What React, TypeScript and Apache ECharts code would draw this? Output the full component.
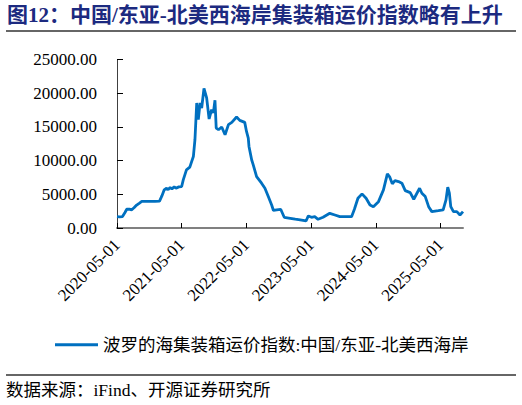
import React, { useEffect, useRef } from "react";
import * as echarts from "echarts";

const titleText = "图12：中国/东亚-北美西海岸集装箱运价指数略有上升";
const seriesName = "波罗的海集装箱运价指数:中国/东亚-北美西海岸";
const sourceText = "数据来源：iFind、开源证券研究所";

const dates = [
  "2020-05-01", "2020-05-15", "2020-06-01", "2020-06-15", "2020-06-25", "2020-07-10", "2020-07-22",
  "2020-08-05", "2020-08-20", "2020-09-05", "2020-09-18", "2020-10-10", "2020-11-05", "2020-12-01",
  "2020-12-27", "2021-01-10", "2021-01-22", "2021-02-05", "2021-02-14", "2021-02-25", "2021-03-07",
  "2021-03-20", "2021-03-30", "2021-04-15", "2021-05-01", "2021-05-10", "2021-05-28", "2021-06-16",
  "2021-07-06", "2021-07-15", "2021-07-25", "2021-08-03", "2021-08-13", "2021-08-22", "2021-09-04",
  "2021-09-19", "2021-10-03", "2021-10-17", "2021-10-27", "2021-11-05", "2021-11-12", "2021-11-25",
  "2021-12-13", "2022-01-01", "2022-01-20", "2022-02-08", "2022-03-07", "2022-03-25", "2022-04-22",
  "2022-05-02", "2022-05-12", "2022-05-16", "2022-05-31", "2022-06-09", "2022-06-28", "2022-07-26",
  "2022-08-14", "2022-09-02", "2022-09-21", "2022-10-01", "2022-10-19", "2022-11-11", "2022-12-01",
  "2023-01-04", "2023-02-01", "2023-03-01", "2023-04-03", "2023-04-16", "2023-05-04", "2023-05-22",
  "2023-06-10", "2023-07-08", "2023-08-15", "2023-09-13", "2023-10-11", "2023-11-15", "2023-12-16",
  "2024-01-01", "2024-01-21", "2024-02-13", "2024-03-07", "2024-03-29", "2024-04-17", "2024-05-16",
  "2024-06-13", "2024-07-05", "2024-07-19", "2024-08-02", "2024-08-17", "2024-09-06", "2024-09-25",
  "2024-10-14", "2024-11-11", "2024-12-01", "2024-12-19", "2025-01-03", "2025-01-16", "2025-02-04",
  "2025-02-23", "2025-03-13", "2025-04-19", "2025-05-16", "2025-06-01", "2025-06-11", "2025-06-20",
  "2025-06-28", "2025-07-13", "2025-08-01", "2025-08-19", "2025-09-05",
];

const values = [
  1680, 1650, 1700, 2300, 2780, 2800, 2700,
  3000, 3400, 3700, 3950, 3950, 3950, 3950,
  4000, 4800, 5650, 5900, 5700, 6000, 5800,
  6100, 5900, 6100, 6150, 7140, 8630, 9030,
  10600, 13100, 18550, 16070, 18550, 17800, 20700,
  19300, 16170, 17560, 17070, 18950, 14830, 14580,
  14980, 13840, 15330, 15670, 16470, 15970, 15670,
  14330, 13350, 12100, 10120, 9370, 7630, 6650,
  5900, 4660, 3420, 2600, 2680, 2780, 1590,
  1440, 1300, 1190, 1040, 1790, 1590, 1680,
  1290, 1590, 2180, 1930, 1680, 1700, 1680,
  2780, 4420, 5060, 4420, 3420, 3170, 3910,
  5650, 8030, 7540, 6550, 7040, 6890, 6650,
  5550, 5250, 4270, 5160, 5900, 5160, 4660,
  3170, 2430, 2570, 2680, 4170, 6060, 5160,
  3170, 2430, 2430, 1930, 2430,
];

const xTickDates = ["2020-05-01", "2021-05-01", "2022-05-01", "2023-05-01", "2024-05-01", "2025-05-01"];
const xMinDate = "2020-05-01";
const xMaxDate = "2025-09-05";
const yTicks = [0, 5000, 10000, 15000, 20000, 25000];

function toTs(s: string): number {
  const [y, m, d] = s.split("-").map(Number);
  return Date.UTC(y, m - 1, d);
}
function fmtDate(v: number): string {
  const d = new Date(v);
  const p = (n: number) => (n < 10 ? "0" + n : "" + n);
  return d.getUTCFullYear() + "-" + p(d.getUTCMonth() + 1) + "-" + p(d.getUTCDate());
}

export default function App() {
  const ref = useRef<HTMLDivElement>(null);
  useEffect(() => {
    if (!ref.current) return;
    const chart = echarts.init(ref.current, undefined, { renderer: "svg" });
    const serif = "'Liberation Serif', 'Times New Roman', 'Noto Sans CJK SC', serif";
    const tickTs = xTickDates.map(toTs);
    chart.setOption({
      animation: false,
      backgroundColor: "#ffffff",
      grid: { left: 117, right: 59, top: 59.5, bottom: 177 },
      legend: {
        left: 50,
        top: 331,
        icon: "rect",
        itemWidth: 43,
        itemHeight: 3,
        textStyle: { fontFamily: serif, fontSize: 17.5, color: "#000000" },
        data: [seriesName],
      },
      xAxis: {
        type: "value",
        min: toTs(xMinDate),
        max: toTs(xMaxDate),
        splitLine: { show: false },
        axisLine: { show: true, lineStyle: { color: "#808080", width: 2 } },
        axisTick: {
          show: true,
          inside: true,
          length: 5,
          customValues: tickTs,
          lineStyle: { color: "#000000", width: 1 },
        },
        axisLabel: {
          customValues: tickTs,
          rotate: 45,
          margin: 14,
          fontFamily: serif,
          fontSize: 17,
          color: "#000000",
          formatter: (v: number) => fmtDate(v),
        },
      },
      yAxis: {
        type: "value",
        min: yTicks[0],
        max: yTicks[yTicks.length - 1],
        interval: 5000,
        splitLine: { show: false },
        axisLine: { show: true, lineStyle: { color: "#404040", width: 1 } },
        axisTick: { show: true, inside: true, length: 6, lineStyle: { color: "#000000" } },
        axisLabel: {
          margin: 20,
          fontFamily: serif,
          fontSize: 17,
          color: "#000000",
          formatter: (v: number) => v.toFixed(2),
        },
      },
      series: [
        {
          name: seriesName,
          type: "line",
          symbol: "none",
          lineStyle: { color: "#0070c0", width: 2.8 },
          itemStyle: { color: "#0070c0" },
          data: dates.map((d, i) => [toTs(d), values[i]]),
        },
      ],
      graphic: [
        {
          type: "text",
          left: 7,
          top: 4,
          style: {
            text: titleText,
            fontSize: 21,
            fontWeight: "bold",
            fontFamily: serif,
            fill: "#1c2a80",
          },
        },
        {
          type: "line",
          shape: { x1: 6, y1: 31, x2: 516, y2: 31 },
          style: { stroke: "#333333", lineWidth: 1.5 },
        },
        {
          type: "line",
          shape: { x1: 6, y1: 375, x2: 516, y2: 375 },
          style: { stroke: "#333333", lineWidth: 1.5 },
        },
        {
          type: "text",
          left: 6,
          top: 381,
          style: {
            text: sourceText,
            fontSize: 17.5,
            fontFamily: serif,
            fill: "#000000",
          },
        },
      ],
    });
    return () => chart.dispose();
  }, []);
  return (
    <div
      ref={ref}
      style={{ position: "fixed", left: 0, top: 0, width: 522, height: 405 }}
    />
  );
}
